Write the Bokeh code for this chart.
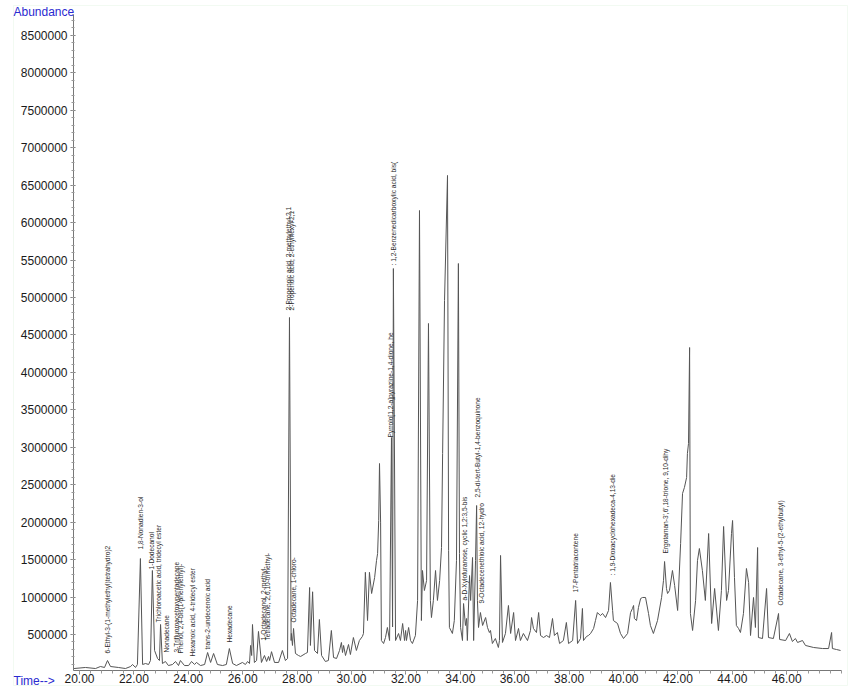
import numpy as np
from bokeh.plotting import figure
from bokeh.models import Range1d, FixedTicker, NumeralTickFormatter, Label, ColumnDataSource, BoxAnnotation
from bokeh.core.properties import value
from bokeh.embed import file_html
from bokeh.resources import INLINE

# ---- chromatogram trace (retention time in min, abundance) ----
time_min = [
    19.80, 20.22, 20.59, 20.77, 20.92, 21.03, 21.14, 21.43, 21.69, 21.88, 21.95, 22.06, 22.13,
    22.24, 22.32, 22.43, 22.54, 22.61, 22.68, 22.76, 22.87, 22.94, 22.98, 23.05, 23.16, 23.27,
    23.42, 23.53, 23.64, 23.71, 23.86, 24.01, 24.12, 24.23, 24.30, 24.45, 24.60, 24.71, 24.82,
    24.93, 25.07, 25.26, 25.40, 25.51, 25.63, 25.77, 25.99, 26.10, 26.18, 26.25, 26.29, 26.33,
    26.36, 26.43, 26.51, 26.58, 26.69, 26.80, 26.88, 26.95, 26.99, 27.06, 27.17, 27.32, 27.46,
    27.57, 27.65, 27.72, 27.78, 27.79, 27.83, 27.87, 27.94, 28.05, 28.13, 28.31, 28.38, 28.46,
    28.49, 28.57, 28.64, 28.75, 28.82, 28.90, 29.04, 29.15, 29.26, 29.34, 29.45, 29.56, 29.63,
    29.67, 29.71, 29.78, 29.89, 29.96, 30.07, 30.18, 30.29, 30.40, 30.44, 30.51, 30.59, 30.66,
    30.74, 30.85, 30.92, 30.96, 31.00, 31.03, 31.07, 31.10, 31.18, 31.25, 31.32, 31.40, 31.47,
    31.51, 31.54, 31.62, 31.73, 31.80, 31.88, 31.95, 31.99, 32.02, 32.10, 32.17, 32.24, 32.35,
    32.43, 32.50, 32.57, 32.61, 32.68, 32.76, 32.83, 32.90, 32.94, 33.01, 33.09, 33.16, 33.24,
    33.31, 33.35, 33.42, 33.53, 33.57, 33.60, 33.71, 33.78, 33.86, 33.93, 33.97, 34.01, 34.08,
    34.12, 34.19, 34.23, 34.26, 34.34, 34.38, 34.45, 34.49, 34.56, 34.60, 34.63, 34.67, 34.74,
    34.82, 34.93, 35.00, 35.07, 35.11, 35.18, 35.29, 35.40, 35.44, 35.48, 35.55, 35.66, 35.77,
    35.85, 35.96, 36.03, 36.14, 36.21, 36.32, 36.47, 36.58, 36.62, 36.69, 36.80, 36.88, 36.95,
    37.06, 37.17, 37.28, 37.39, 37.46, 37.57, 37.65, 37.79, 37.90, 37.98, 38.13, 38.24, 38.31,
    38.42, 38.49, 38.53, 38.64, 38.71, 38.79, 38.90, 38.97, 39.04, 39.15, 39.23, 39.34, 39.45,
    39.52, 39.60, 39.63, 39.78, 39.89, 40.00, 40.15, 40.26, 40.33, 40.37, 40.40, 40.48, 40.55,
    40.63, 40.70, 40.81, 40.92, 40.99, 41.10, 41.25, 41.40, 41.47, 41.51, 41.58, 41.62, 41.69,
    41.80, 41.88, 41.99, 42.10, 42.17, 42.24, 42.32, 42.35, 42.39, 42.43, 42.46, 42.54, 42.65,
    42.72, 42.79, 42.90, 43.01, 43.13, 43.24, 43.35, 43.49, 43.60, 43.68, 43.79, 43.86, 43.97,
    44.01, 44.08, 44.15, 44.23, 44.30, 44.41, 44.52, 44.60, 44.67, 44.78, 44.85, 44.93, 44.96,
    45.11, 45.26, 45.33, 45.51, 45.70, 45.74, 45.96, 46.10, 46.21, 46.32, 46.40, 46.58, 46.69,
    46.99, 47.32, 47.54, 47.65, 47.68, 47.83, 47.98,
]
abundance = [
    45000, 59000, 45000, 72000, 59000, 152000, 72000, 59000, 45000, 72000, 99000, 59000, 99000,
    1514000, 99000, 112000, 99000, 152000, 1354000, 286000, 179000, 152000, 633000, 112000, 139000, 85000,
    99000, 139000, 85000, 152000, 85000, 85000, 139000, 99000, 126000, 85000, 99000, 259000, 126000,
    246000, 99000, 85000, 99000, 312000, 112000, 85000, 126000, 99000, 139000, 112000, 353000, 219000,
    633000, 126000, 152000, 540000, 126000, 219000, 139000, 206000, 152000, 270000, 126000, 126000, 286000,
    152000, 179000, 4733000, 419000, 513000, 353000, 580000, 246000, 219000, 206000, 246000, 259000, 1127000,
    353000, 1070000, 286000, 246000, 700000, 219000, 139000, 152000, 553000, 192000, 179000, 286000, 393000,
    259000, 353000, 219000, 366000, 232000, 459000, 286000, 419000, 473000, 513000, 1330000, 686000, 1330000,
    1047000, 1260000, 1488000, 1581000, 2022000, 2783000, 2000000, 419000, 379000, 459000, 593000, 419000, 3130000,
    600000, 5387000, 419000, 513000, 419000, 646000, 419000, 553000, 419000, 593000, 419000, 379000, 486000,
    954000, 6162000, 686000, 1354000, 1087000, 1220000, 4653000, 954000, 726000, 954000, 1354000, 954000, 1220000,
    1661000, 2917000, 4960000, 6630000, 1621000, 593000, 513000, 686000, 1488000, 5454000, 1581000, 593000, 419000,
    913000, 620000, 713000, 419000, 1287000, 954000, 1528000, 419000, 1488000, 2222000, 954000, 593000, 793000,
    620000, 726000, 593000, 526000, 553000, 379000, 446000, 326000, 419000, 1555000, 393000, 513000, 887000,
    513000, 793000, 419000, 580000, 419000, 513000, 419000, 553000, 726000, 580000, 526000, 793000, 486000,
    459000, 486000, 459000, 713000, 486000, 526000, 379000, 419000, 660000, 379000, 419000, 954000, 379000,
    446000, 847000, 419000, 473000, 486000, 513000, 580000, 686000, 793000, 753000, 780000, 726000, 820000,
    1194000, 820000, 686000, 646000, 513000, 446000, 513000, 793000, 847000, 887000, 713000, 686000, 860000,
    980000, 994000, 994000, 780000, 620000, 513000, 686000, 994000, 1220000, 1474000, 1114000, 1047000, 1087000,
    1354000, 1154000, 820000, 1715000, 2382000, 2463000, 2596000, 2917000, 3050000, 4332000, 780000, 553000, 954000,
    1488000, 1648000, 1354000, 954000, 1848000, 646000, 1114000, 553000, 1087000, 1942000, 954000, 1087000, 1848000,
    2022000, 1260000, 620000, 580000, 526000, 780000, 1381000, 1194000, 486000, 994000, 593000, 1661000, 459000,
    446000, 1114000, 459000, 446000, 780000, 433000, 419000, 513000, 406000, 446000, 393000, 419000, 353000,
    326000, 312000, 312000, 526000, 312000, 299000, 286000,
]

# ---- compound labels: text, retention time, abundance where the text starts ----
label_text = [
    "6-Ethyl-3-(1-methylethyl)tetrahydro)2",
    "1,8-Nonadien-3-ol",
    "1-Dodecanol",
    "Trichloroacetic acid, tridecyl ester",
    "Nonadecane",
    "3-Trifluoroacetoxypentadecane",
    "Phenol, 2,4-bis(1-phenylethyl)-",
    "Hexanoic acid, 4-tridecyl ester",
    "trans-2-undecenoic acid",
    "Hexadecane",
    "1-Octadecanol, 2-methyl-",
    "Tetradecane, 2,6,10-trimethyl-",
    "Octadecane, 1-chloro-",
    "2-Propenoic acid, 2-methylethyl-2,1",
    "2-Propenoic acid, 2-ethylhexyl-2,1",
    "Pyrrolo[1,2-a]pyrazine-1,4-dione, he",
    ": 1,2-Benzenedicarboxylic acid, bis(",
    "a-D-Xylofuranose, cyclic 1,2:3,5-bis",
    "9-Octadecenethioic acid, 12-hydro",
    "2,5-di-tert-Butyl-1,4-benzoquinone",
    "17-Pentatriacontene",
    ": 1,9-Dioxacyclohexadeca-4,13-die",
    "Ergotaman-3',6',18-trione, 9,10-dihy",
    "Octadecane, 3-ethyl-5-(2-ethylbutyl)",
]
label_time = [21.03, 22.24, 22.65, 22.90, 23.20, 23.57, 23.71, 24.15, 24.71, 25.51, 26.76, 26.91,
              27.87, 27.68, 27.79, 31.43, 31.54, 34.15, 34.78, 34.63, 38.24, 39.60, 41.54, 45.77]
label_abund = [246000, 1635000, 1368000, 660000, 259000, 259000, 246000, 206000, 299000, 393000,
               419000, 419000, 660000, 4827000, 4827000, 3130000, 5427000, 954000, 913000, 2329000,
               1060000, 1287000, 1581000, 887000]

x_ticks = [20, 22, 24, 26, 28, 30, 32, 34, 36, 38, 40, 42, 44, 46]
y_ticks = [500000, 1000000, 1500000, 2000000, 2500000, 3000000, 3500000, 4000000, 4500000,
           5000000, 5500000, 6000000, 6500000, 7000000, 7500000, 8000000, 8500000]

time_start, time_end = 19.78, 48.0
abund_start, abund_end = 19000, 8780000

# the frame covers the whole canvas; axes are pinned at the data origin so that the
# axis titles can sit outside the axes, as in the instrument printout
W, H = 856, 697
x_lo, x_hi = 17.096, 48.566
y_lo, y_hi = -341900, 8966600

p = figure(width=W, height=H, output_backend="svg", toolbar_location=None,
           x_range=Range1d(x_lo, x_hi), y_range=Range1d(y_lo, y_hi), min_border=0)
p.outline_line_color = None
p.xgrid.grid_line_color = None
p.ygrid.grid_line_color = None
p.background_fill_color = "white"
p.border_fill_color = "white"

# faint green border of the printout
px_x = lambda px: x_lo + (x_hi - x_lo) * px / W
px_y = lambda py: y_hi - (y_hi - y_lo) * py / H
p.add_layout(BoxAnnotation(left=px_x(13), right=px_x(847), top=px_y(5), bottom=px_y(685),
                           fill_color=None, line_color="#d3eed3", line_width=1))

p.line(time_min, abundance, line_color="#555555", line_width=1)

src = ColumnDataSource(dict(x=label_time, y=label_abund, t=label_text))
p.text(x="x", y="y", text="t", source=src, angle=np.pi / 2, text_align="left",
       text_baseline="middle", text_font=value("Liberation Sans"),
       text_font_size="6.6px", text_color="#2b2b2b")

xa = p.xaxis[0]
xa.fixed_location = abund_start
xa.bounds = (time_start, time_end)
xa.ticker = FixedTicker(ticks=x_ticks, minor_ticks=[20 + 0.4 * i for i in range(71)])
xa.formatter = NumeralTickFormatter(format="0.00")
xa.major_label_text_font = "Liberation Sans"
xa.major_label_text_font_size = "12px"
xa.major_label_text_color = "#1a1a1a"
xa.major_label_standoff = 0
xa.major_tick_out = 4
xa.major_tick_in = 0
xa.minor_tick_out = 3
xa.minor_tick_in = 0
xa.axis_line_color = "#777777"
xa.major_tick_line_color = "#777777"
xa.minor_tick_line_color = "#999999"

ya = p.yaxis[0]
ya.fixed_location = time_start
ya.bounds = (abund_start, abund_end)
ya.ticker = FixedTicker(ticks=y_ticks, minor_ticks=[100000 * i for i in range(1, 88)])
ya.formatter = NumeralTickFormatter(format="0")
ya.major_label_text_font = "Liberation Sans"
ya.major_label_text_font_size = "12px"
ya.major_label_text_color = "#1a1a1a"
ya.major_label_standoff = 3
ya.major_tick_out = 3
ya.major_tick_in = 2
ya.minor_tick_out = 2
ya.minor_tick_in = 1
ya.axis_line_color = "#777777"
ya.major_tick_line_color = "#777777"
ya.minor_tick_line_color = "#999999"

p.add_layout(Label(x=px_x(13), y=px_y(11), text="Abundance",
                   text_font="Liberation Sans", text_font_size="12px", text_color="#2a2ad0",
                   text_baseline="middle"))
p.add_layout(Label(x=px_x(13), y=px_y(680), text="Time-->",
                   text_font="Liberation Sans", text_font_size="12px", text_color="#2a2ad0",
                   text_baseline="middle"))

open("out.html", "w").write(file_html(p, INLINE))
